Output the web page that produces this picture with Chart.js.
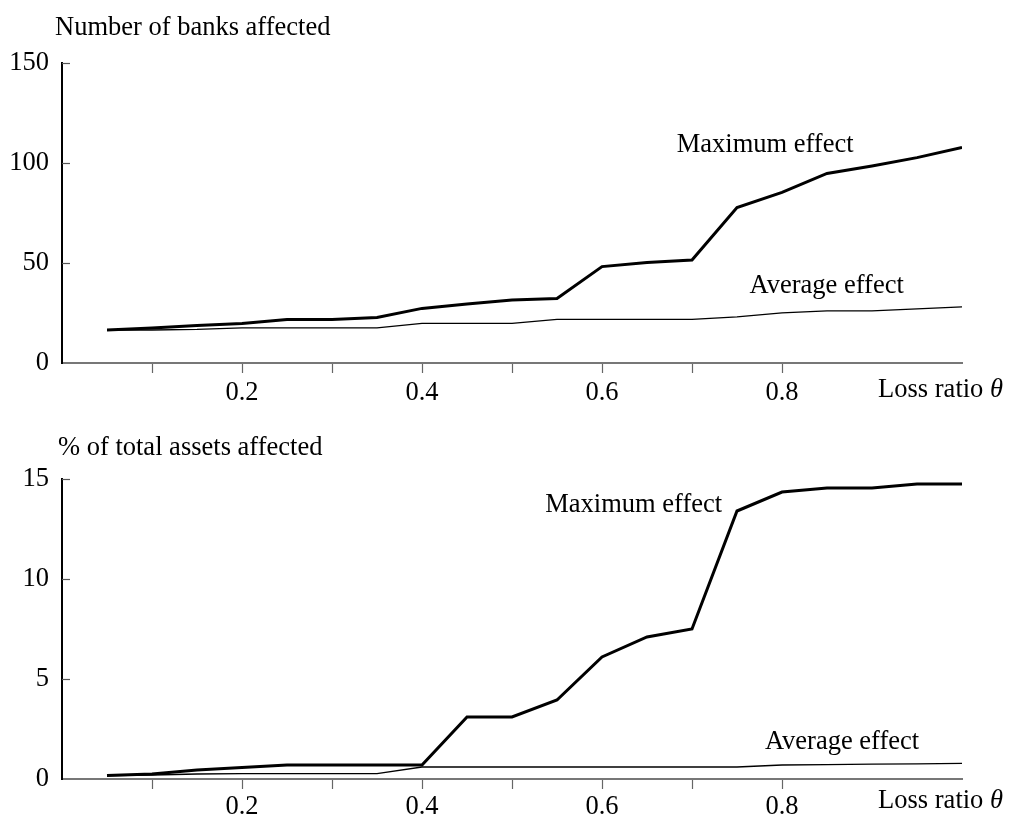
<!DOCTYPE html>
<html>
<head>
<meta charset="utf-8">
<script src="https://cdn.jsdelivr.net/npm/chart.js@4.4.1/dist/chart.umd.min.js"></script>
<style>
  html, body { margin: 0; padding: 0; background: #fff; }
  #wrap { position: relative; width: 1013px; height: 814px; overflow: hidden; }
  canvas { position: absolute; left: 0; }
</style>
</head>
<body>
<div id="wrap">
  <canvas id="c1" width="1013" height="416" style="top:0"></canvas>
  <canvas id="c2" width="1013" height="398" style="top:416px"></canvas>
</div>
<script>
// ---- data ----
const theta = [0.05, 0.10, 0.15, 0.20, 0.25, 0.30, 0.35, 0.40, 0.45, 0.50,
               0.55, 0.60, 0.65, 0.70, 0.75, 0.80, 0.85, 0.90, 0.95, 1.00];
const banksMax = [16.5, 17.5, 18.7, 19.8, 21.8, 21.8, 22.8, 27.3, 29.5, 31.5,
                  32.3, 48.2, 50.2, 51.5, 77.7, 85.3, 94.8, 98.5, 102.7, 107.8];
const banksAvg = [16.5, 16.5, 16.8, 17.6, 17.6, 17.6, 17.6, 19.8, 19.8, 19.8,
                  21.8, 21.8, 21.8, 21.8, 23.1, 25.1, 26.1, 26.1, 27.1, 28.1];
const assetsMax = [0.17, 0.25, 0.45, 0.57, 0.7, 0.7, 0.7, 0.7, 3.1, 3.1,
                   3.95, 6.1, 7.1, 7.5, 13.4, 14.35, 14.55, 14.55, 14.75, 14.75];
const assetsAvg = [0.17, 0.2, 0.25, 0.27, 0.27, 0.27, 0.27, 0.6, 0.6, 0.6,
                   0.6, 0.6, 0.6, 0.6, 0.6, 0.7, 0.72, 0.74, 0.76, 0.78];
const xTickValues = [0.1, 0.2, 0.3, 0.4, 0.5, 0.6, 0.7, 0.8];
const xTickLabels = ['', '0.2', '', '0.4', '', '0.6', '', '0.8'];
const banksTicks = [0, 50, 100, 150];
const assetsTicks = [0, 5, 10, 15];
const xTitle = 'Loss ratio ';
const xTitleSym = 'θ';

const FONT = '"Liberation Serif", "Times New Roman", serif';
const FS = 26.5;

function makeChart(id, cfg) {
  const ctxEl = document.getElementById(id);
  const annot = {
    id: 'annot',
    afterDatasetsDraw(chart) {
      const ctx = chart.ctx;
      const ca = chart.chartArea;
      const xs = chart.scales.x, ys = chart.scales.y;
      ctx.save();
      // inward y ticks
      ctx.strokeStyle = '#555';
      ctx.lineWidth = 1.2;
      cfg.yTicks.forEach(v => {
        if (v === 0) return;
        const py = Math.round(ys.getPixelForValue(v)) + 0.5;
        ctx.beginPath();
        ctx.moveTo(ca.left, py);
        ctx.lineTo(ca.left + 8, py);
        ctx.stroke();
      });
      ctx.fillStyle = '#000';
      ctx.font = FS + 'px ' + FONT;
      ctx.textBaseline = 'alphabetic';
      ctx.textAlign = 'left';
      // y title
      ctx.fillText(cfg.yTitle, ca.left + cfg.yTitleDx, cfg.yTitleY);
      // series labels
      cfg.labels.forEach(l => {
        ctx.fillText(l.text, xs.getPixelForValue(l.x), ys.getPixelForValue(l.y));
      });
      // x title
      ctx.font = 'italic ' + FS + 'px ' + FONT;
      const wSym = ctx.measureText(xTitleSym).width;
      const rightEdge = ca.right + 41;
      ctx.fillText(xTitleSym, rightEdge - wSym, ca.bottom + cfg.xTitleDy);
      ctx.font = FS + 'px ' + FONT;
      const wTxt = ctx.measureText(xTitle).width;
      ctx.fillText(xTitle, rightEdge - wSym - wTxt, ca.bottom + cfg.xTitleDy);
      ctx.restore();
    }
  };
  return new Chart(ctxEl, {
    type: 'line',
    data: {
      datasets: [
        { data: theta.map((t, i) => ({ x: t, y: cfg.max[i] })), borderColor: '#000', borderWidth: 3, pointRadius: 0, tension: 0 },
        { data: theta.map((t, i) => ({ x: t, y: cfg.avg[i] })), borderColor: '#000', borderWidth: 1.3, pointRadius: 0, tension: 0 }
      ]
    },
    options: {
      responsive: false,
      animation: false,
      events: [],
      layout: { padding: { left: 0, right: 51, top: 63, bottom: 0 } },
      plugins: { legend: { display: false }, tooltip: { enabled: false }, title: { display: false } },
      scales: {
        x: {
          type: 'linear', min: 0, max: 1,
          afterBuildTicks: s => { s.ticks = xTickValues.map(v => ({ value: v })); },
          afterFit: s => { s.height = cfg.xHeight; },
          ticks: {
            autoSkip: false, maxRotation: 0, color: '#000', padding: cfg.xPad,
            font: { family: FONT, size: FS },
            callback: (v) => { const i = xTickValues.findIndex(t => Math.abs(t - v) < 1e-9); return i >= 0 ? xTickLabels[i] : ''; }
          },
          grid: { display: true, drawOnChartArea: false, drawTicks: true, tickLength: 10, tickColor: '#666', tickWidth: 1.2 },
          border: { display: true, color: '#777', width: 2 }
        },
        y: {
          type: 'linear', min: 0, max: cfg.yMax,
          afterBuildTicks: s => { s.ticks = cfg.yTicks.map(v => ({ value: v })); },
          afterFit: s => { s.width = 62; },
          ticks: { color: '#000', padding: 13, font: { family: FONT, size: FS } },
          grid: { display: true, drawOnChartArea: false, drawTicks: false },
          border: { display: true, color: '#000', width: 2 }
        }
      }
    },
    plugins: [annot]
  });
}

makeChart('c1', {
  max: banksMax, avg: banksAvg, yMax: 150, yTicks: banksTicks,
  yTitle: 'Number of banks affected', yTitleDx: -7, yTitleY: 35,
  xHeight: 53, xPad: 4, xTitleDy: 34,
  labels: [
    { text: 'Maximum effect', x: 0.683, y: 105.5 },
    { text: 'Average effect', x: 0.764, y: 35 }
  ]
});
makeChart('c2', {
  max: assetsMax, avg: assetsAvg, yMax: 15, yTicks: assetsTicks,
  yTitle: '% of total assets affected', yTitleDx: -4, yTitleY: 39,
  xHeight: 35, xPad: 2, xTitleDy: 29,
  labels: [
    { text: 'Maximum effect', x: 0.537, y: 13.35 },
    { text: 'Average effect', x: 0.781, y: 1.5 }
  ]
});
</script>
</body>
</html>
